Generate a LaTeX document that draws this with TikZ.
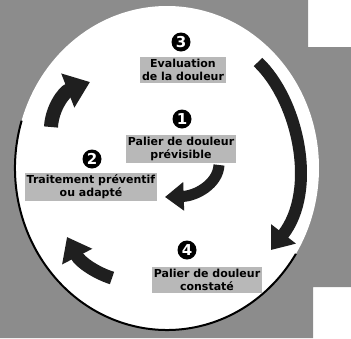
\documentclass[tikz,border=0pt]{standalone}
\usepackage{fontspec}
\setmainfont{DejaVu Sans}
\usetikzlibrary{arrows.meta}
\definecolor{bggray}{gray}{0.55}
\definecolor{boxgray}{gray}{0.72}
\definecolor{arrowdark}{gray}{0.12}
\tikzset{
  label box/.style={fill=boxgray, inner sep=2pt, align=center, font=\fontsize{11}{13}\selectfont\bfseries, text=black},
  num/.style={circle, fill=black, text=white, inner sep=0pt, minimum size=19pt, font=\fontsize{15}{15}\selectfont\bfseries},
  fat arrow/.style={draw=arrowdark, line width=#1, -{Triangle[width=2.5*#1, length=1.7*#1]}},
}
\begin{document}
\begin{tikzpicture}[x=1pt,y=-1pt]
\useasboundingbox (0,0) rectangle (351,338);
% background
\fill[bggray] (0,0) -- (308,0) -- (308,47) -- (351,47) -- (351,287) -- (313,287) -- (313,338) -- (0,338) -- cycle;
\fill[white] (167,168) ellipse [x radius=152, y radius=162];
\draw[line width=2pt] (167,168) ++(197:152 and 162) arc[start angle=197, end angle=32, x radius=152, y radius=162];
% numbers and labels
\node[num] (n3) at (181,42) {3};
\node[label box] (l3) at (183,70) {Evaluation\\de la douleur};
\node[num] (n1) at (182,119) {1};
\node[label box] (l1) at (181,149) {Palier de douleur\\prévisible};
\node[num] (n2) at (92,159) {2};
\node[label box] (l2) at (91,187) {Traitement préventif\\ou adapté};
\node[num] (n4) at (187,250) {4};
\node[label box] (l4) at (207,280) {Palier de douleur\\constaté};
% arrows
\coordinate (a1s) at (258,62); \coordinate (a1e) at (271,250);
\draw[fat arrow=12pt] (a1s) .. controls (298,100) and (318,190) .. (a1e);
\coordinate (a2s) at (51,127); \coordinate (a2e) at (90,82);
\draw[fat arrow=14pt] (a2s) .. controls (52,108) and (64,92) .. (a2e);
\coordinate (a3s) at (112,278); \coordinate (a3e) at (67,237);
\draw[fat arrow=13pt] (a3s) .. controls (96,273) and (80,262) .. (a3e);
\coordinate (a4s) at (219,165); \coordinate (a4e) at (165,197);
\draw[fat arrow=11pt] (a4s) .. controls (218,184) and (196,196) .. (a4e);
\end{tikzpicture}
\end{document}
